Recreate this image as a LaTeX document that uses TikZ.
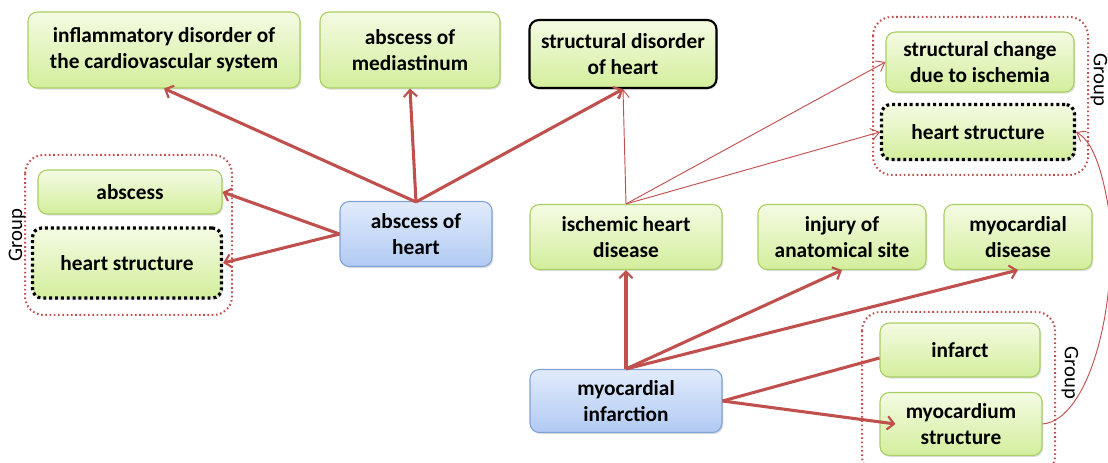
\documentclass[tikz,border=0pt]{standalone}
\usepackage{fontspec}
\setmainfont{Carlito}
\usetikzlibrary{arrows.meta,shadows,calc}
\definecolor{arr}{HTML}{C0504D}
\definecolor{gtop}{HTML}{F4FBE3}
\definecolor{gbot}{HTML}{D3EE9C}
\definecolor{gbord}{HTML}{A9CF62}
\definecolor{btop}{HTML}{E1EBFC}
\definecolor{bbot}{HTML}{B1CAF3}
\definecolor{bbord}{HTML}{7FA2D9}
\tikzset{
  box/.style={rounded corners=7pt, align=center, inner sep=0pt,
    font=\fontsize{16}{19.5}\selectfont\bfseries,
    drop shadow={shadow xshift=1pt, shadow yshift=-1.2pt, opacity=0.25}},
  gbox/.style={box, draw=gbord, line width=0.8pt, top color=gtop, bottom color=gbot},
  bbox/.style={box, draw=bbord, line width=0.8pt, top color=btop, bottom color=bbot},
  blackbox/.style={gbox, draw=black, line width=1.6pt},
  dotbox/.style={gbox, draw=black, line width=2.4pt, dash pattern=on 2.2pt off 2.2pt},
  grp/.style={draw=arr, line width=1.5pt, dash pattern=on 1.2pt off 2pt, rounded corners=14pt},
  grplab/.style={font=\fontsize{15.5}{17}\selectfont},
  thick arrow/.style={draw=arr, line width=2.3pt, -{Straight Barb[length=5pt,width=10pt,line width=1.6pt]}},
  thin arrow/.style={draw=arr, line width=0.7pt, -{Straight Barb[length=6pt,width=9pt]}},
}
\begin{document}
\begin{tikzpicture}[x=0.75pt,y=-0.75pt]
\useasboundingbox (0,0) rectangle (1108,463);
% groups
\draw[grp] (25,155) rectangle (232,315);
\draw[grp] (873,17) rectangle (1088,175);
\draw[grp] (862,312) rectangle (1055,475);
\node[grplab, rotate=90] (gl1) at (17,235) {Group};
\node[grplab, rotate=-90] (gl2) at (1099,80) {Group};
\node[grplab, rotate=-90] (gl3) at (1070,373) {Group};
% nodes
\node[gbox, minimum width=272*0.75pt, minimum height=76*0.75pt] (infl) at (164,50) {inflammatory disorder of\\the cardiovascular system};
\node[gbox, minimum width=180*0.75pt, minimum height=76*0.75pt] (medi) at (410,50) {abscess of\\mediastinum};
\node[blackbox, minimum width=187*0.75pt, minimum height=68*0.75pt] (sdh) at (623,54) {structural disorder\\of heart};
\node[gbox, minimum width=188*0.75pt, minimum height=60*0.75pt] (sci) at (980,62) {structural change\\due to ischemia};
\node[dotbox, minimum width=193*0.75pt, minimum height=55*0.75pt] (hsr) at (978,132) {heart structure};
\node[gbox, minimum width=184*0.75pt, minimum height=44*0.75pt] (absc) at (130,192) {abscess};
\node[dotbox, minimum width=189*0.75pt, minimum height=70*0.75pt] (hsl) at (127,263) {heart structure};
\node[bbox, minimum width=152*0.75pt, minimum height=65*0.75pt] (aoh) at (416,234) {abscess of\\heart};
\node[gbox, minimum width=192*0.75pt, minimum height=65*0.75pt] (ihd) at (626,237) {ischemic heart\\disease};
\node[gbox, minimum width=168*0.75pt, minimum height=65*0.75pt] (inj) at (842,237) {injury of\\anatomical site};
\node[gbox, minimum width=148*0.75pt, minimum height=65*0.75pt] (myd) at (1018,237) {myocardial\\disease};
\node[bbox, minimum width=192*0.75pt, minimum height=63*0.75pt] (mi) at (626,401) {myocardial\\infarction};
\node[gbox, minimum width=160*0.75pt, minimum height=54*0.75pt] (inf) at (960,350) {infarct};
\node[gbox, minimum width=162*0.75pt, minimum height=63*0.75pt] (mys) at (961,424) {myocardium\\structure};
% connectors
\coordinate (aohtop) at ($(aoh.north)+(0,1)$);
\draw[thick arrow] (aohtop) -- (infl.south);
\draw[thick arrow] (aohtop) -- (medi.south);
\draw[thick arrow] (aohtop) -- (sdh.south);
\draw[thick arrow] (aoh.west) -- (absc.east);
\draw[thick arrow] (aoh.west) -- (hsl.east);
\draw[thin arrow] (ihd.north) -- (sdh.south);
\draw[thin arrow] (ihd.north) -- (sci.west);
\draw[thin arrow] (ihd.north) -- (hsr.west);
\draw[thick arrow] (mi.north) -- (ihd.south);
\draw[thick arrow] (mi.north) -- (inj.south);
\draw[thick arrow] (mi.north) -- (myd.south);
\coordinate (infin) at ($(inf.west)+(0,8)$);
\draw[draw=arr, line width=2.3pt] (mi.east) -- (infin);
\coordinate (mysin) at ($(mys.west)+(16,0)$);
\draw[thick arrow] (mi.east) -- (mysin);
\draw[draw=arr, line width=0.7pt, -{Straight Barb[length=6pt,width=9pt]}] (mys.east) .. controls (1090,420) and (1120,300) .. (1108,205) .. controls (1100,160) and (1090,140) .. (hsr.east);
\end{tikzpicture}
\end{document}
